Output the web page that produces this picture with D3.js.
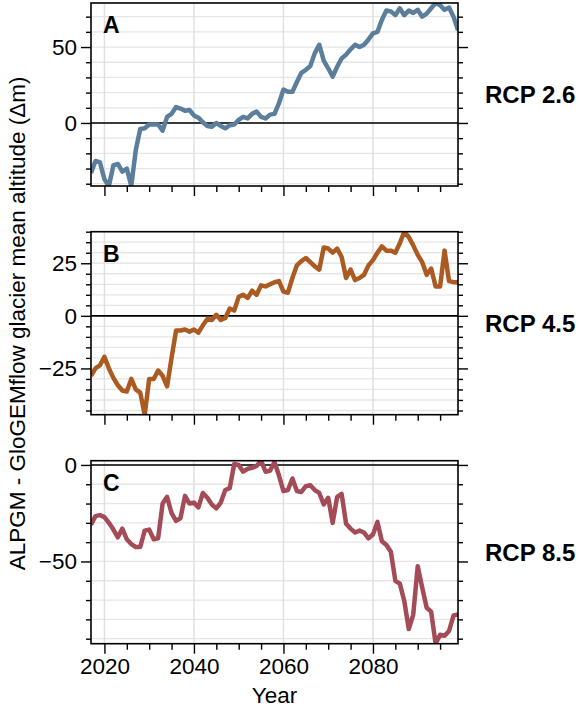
<!DOCTYPE html>
<html>
<head>
<meta charset="utf-8">
<script src="https://cdn.jsdelivr.net/npm/d3@7"></script>
<style>
  html, body { margin: 0; padding: 0; background: #fff; }
  svg { display: block; font-family: "Liberation Sans", Arial, Helvetica, sans-serif; }
</style>
</head>
<body>
<svg id="chart" width="579" height="707"></svg>
<script>
// Years simulated
const years = d3.range(2017, 2100);

// ALPGM minus GloGEMflow glacier mean altitude (m), one value per year
const rcp26 = [
  -33, -25, -26, -37, -41.5, -28, -27, -32, -30, -41.5,
  -18, -4, -3.5, -1, -1, -1, -5, 4, 6, 10.5,
  9.5, 8, 8.5, 5, 3.5, 0.5, -2, -2.5, 0, -2,
  -3.5, -1.5, -1, 2, 4, 3, 6, 7.5, 4, 3,
  5.5, 6, 13, 22, 20.5, 20.5, 27, 33, 35, 37.5,
  46, 51.5, 41, 36, 30.5, 37, 42.5, 45, 48.5, 51.5,
  50, 51.5, 55, 59, 60, 68, 74, 73.5, 71, 75.5,
  71, 74, 72.5, 74.5, 70, 72, 75.5, 79, 77.5, 74.5,
  76, 70, 61
];
const rcp45 = [
  -28.5, -25, -23.5, -19.5, -25, -29.5, -33, -35.5, -36, -30,
  -35, -36.5, -47, -30, -30, -26, -28.5, -33.5, -20, -7,
  -7, -6.5, -7.5, -6.5, -8, -4.5, -1.5, -2, 0.5, -2,
  -1, 3.5, 2.5, 9, 10, 8.5, 12, 10, 14.5, 14,
  15, 16, 16.5, 11.5, 11, 18, 24, 26, 27.5, 25.5,
  23.5, 22, 32.5, 32, 30, 32, 28, 18, 22, 17,
  18, 19.5, 24, 26.5, 30, 33, 31, 31, 30, 34.5,
  40, 37.5, 33.5, 29, 25.5, 19.5, 22.5, 14, 14, 31,
  16.5, 16, 16
];
const rcp85 = [
  -31, -26.5, -26, -27, -30, -33.5, -37.5, -33, -38.5, -41,
  -42.5, -42.5, -34, -33.5, -38.5, -38, -20, -16.5, -25, -29,
  -27.5, -16, -20, -19.5, -22, -14.5, -17, -20.5, -22.5, -19.5,
  -13, -12, 0.5, 0, -3.5, -2, -1.5, -0.5, 2.2, -3.5,
  -3, 1.5, -5.5, -13.5, -13, -7, -13.5, -14, -11, -10.5,
  -13, -14.5, -20.5, -17, -30, -16.5, -15, -30.5, -33, -35,
  -34, -35, -38, -36, -29.5, -39.5, -41.5, -45, -60, -61.5,
  -70.5, -85, -77.5, -52.5, -63.5, -74, -76, -92.6, -88, -88.5,
  -86, -78, -77.5
];

// Panel descriptors
const panelLetters = ["A", "B", "C"];
const scenarioLabels = ["RCP 2.6", "RCP 4.5", "RCP 8.5"];
const seriesList = [rcp26, rcp45, rcp85];
const lineColors = ["#5a7e9c", "#ab5a22", "#a34b57"];
const majorSteps = [50, 25, 50];
const minorSteps = [10, 5, 10];
const xMajorTicks = [2020, 2040, 2060, 2080];

const svg = d3.select("#chart");
const left = 91, right = 458;
const panelTops = [3, 231.7, 460.7];
const panelH = 183;
const black = "#000";
const tickFont = 22.5;

const x = d3.scaleLinear().domain(d3.extent(years)).range([left, right]);
const xMinor = d3.range(2020, 2100, 5);

function rangeTicks(domain, step) {
  const lo = Math.ceil(domain[0] / step) * step;
  const hi = Math.floor(domain[1] / step) * step;
  return d3.range(lo, hi + step / 2, step);
}

seriesList.forEach((vals, i) => {
  const top = panelTops[i], bottom = top + panelH;
  const domain = d3.extent(vals);
  const y = d3.scaleLinear().domain(domain).range([bottom, top]);
  const g = svg.append("g");

  const clipId = "clip" + i;
  svg.append("clipPath").attr("id", clipId)
    .append("rect").attr("x", left).attr("y", top)
    .attr("width", right - left).attr("height", panelH);

  const minor = rangeTicks(domain, minorSteps[i]);
  const major = rangeTicks(domain, majorSteps[i]);

  // grid
  g.append("g").selectAll("line").data(minor).join("line")
    .attr("x1", left).attr("x2", right)
    .attr("y1", d => y(d)).attr("y2", d => y(d))
    .attr("stroke", "#e6e6e6").attr("stroke-width", 1.3);
  g.append("g").selectAll("line").data(xMajorTicks).join("line")
    .attr("x1", d => x(d)).attr("x2", d => x(d))
    .attr("y1", top).attr("y2", bottom)
    .attr("stroke", "#e0e0e0").attr("stroke-width", 1.5);

  // zero reference line
  g.append("line")
    .attr("x1", left).attr("x2", right)
    .attr("y1", y(0)).attr("y2", y(0))
    .attr("stroke", black).attr("stroke-width", 1.6);

  // data line
  const line = d3.line().x((d, k) => x(years[k])).y(d => y(d));
  g.append("path").datum(vals)
    .attr("clip-path", `url(#${clipId})`)
    .attr("d", line)
    .attr("fill", "none")
    .attr("stroke", lineColors[i])
    .attr("stroke-width", 4.5)
    .attr("stroke-linejoin", "round");

  // y axes, left with labels, right without
  const fmt = d3.format("d");
  const minorOnly = minor.filter(v => !major.includes(v));
  g.append("g").attr("transform", `translate(${left},0)`)
    .call(d3.axisLeft(y).tickValues(major).tickSize(10).tickPadding(4).tickFormat(fmt));
  g.append("g").attr("transform", `translate(${left},0)`)
    .call(d3.axisLeft(y).tickValues(minorOnly).tickSize(5).tickFormat(""));
  g.append("g").attr("transform", `translate(${right},0)`)
    .call(d3.axisRight(y).tickValues(major).tickSize(10).tickFormat(""));
  g.append("g").attr("transform", `translate(${right},0)`)
    .call(d3.axisRight(y).tickValues(minorOnly).tickSize(5).tickFormat(""));

  // x axis ticks at bottom of every panel, labels only on the last
  g.append("g").attr("transform", `translate(0,${bottom})`)
    .call(d3.axisBottom(x).tickValues(xMajorTicks).tickSize(10).tickPadding(4)
      .tickFormat(i === 2 ? d3.format("d") : ""));
  g.append("g").attr("transform", `translate(0,${bottom})`)
    .call(d3.axisBottom(x).tickValues(xMinor.filter(v => !xMajorTicks.includes(v))).tickSize(6).tickFormat(""));

  g.selectAll(".domain").remove();
  g.selectAll(".tick line").attr("stroke", black).attr("stroke-width", 1.4);
  g.selectAll(".tick text").attr("font-size", tickFont).attr("fill", black)
    .attr("font-family", "'Liberation Sans', Arial, sans-serif");

  // frame
  g.append("rect").attr("x", left).attr("y", top)
    .attr("width", right - left).attr("height", panelH)
    .attr("fill", "none").attr("stroke", black).attr("stroke-width", 1.6);

  // panel letter
  g.append("text").attr("x", 103).attr("y", top + 30)
    .attr("font-size", 23).attr("font-weight", "bold").text(panelLetters[i]);

  // scenario label
  g.append("text").attr("x", 485).attr("y", top + panelH / 2)
    .attr("dy", "0.35em")
    .attr("font-size", 24).attr("font-weight", "bold").text(scenarioLabels[i]);
});

// axis titles
svg.append("text")
  .attr("x", (left + right) / 2).attr("y", 703)
  .attr("text-anchor", "middle").attr("font-size", tickFont).text("Year");

svg.append("text")
  .attr("transform", `translate(25,${(panelTops[0] + panelTops[2] + panelH) / 2}) rotate(-90)`)
  .attr("text-anchor", "middle").attr("font-size", 22.5)
  .text("ALPGM - GloGEMflow glacier mean altitude (Δm)");
</script>
</body>
</html>
